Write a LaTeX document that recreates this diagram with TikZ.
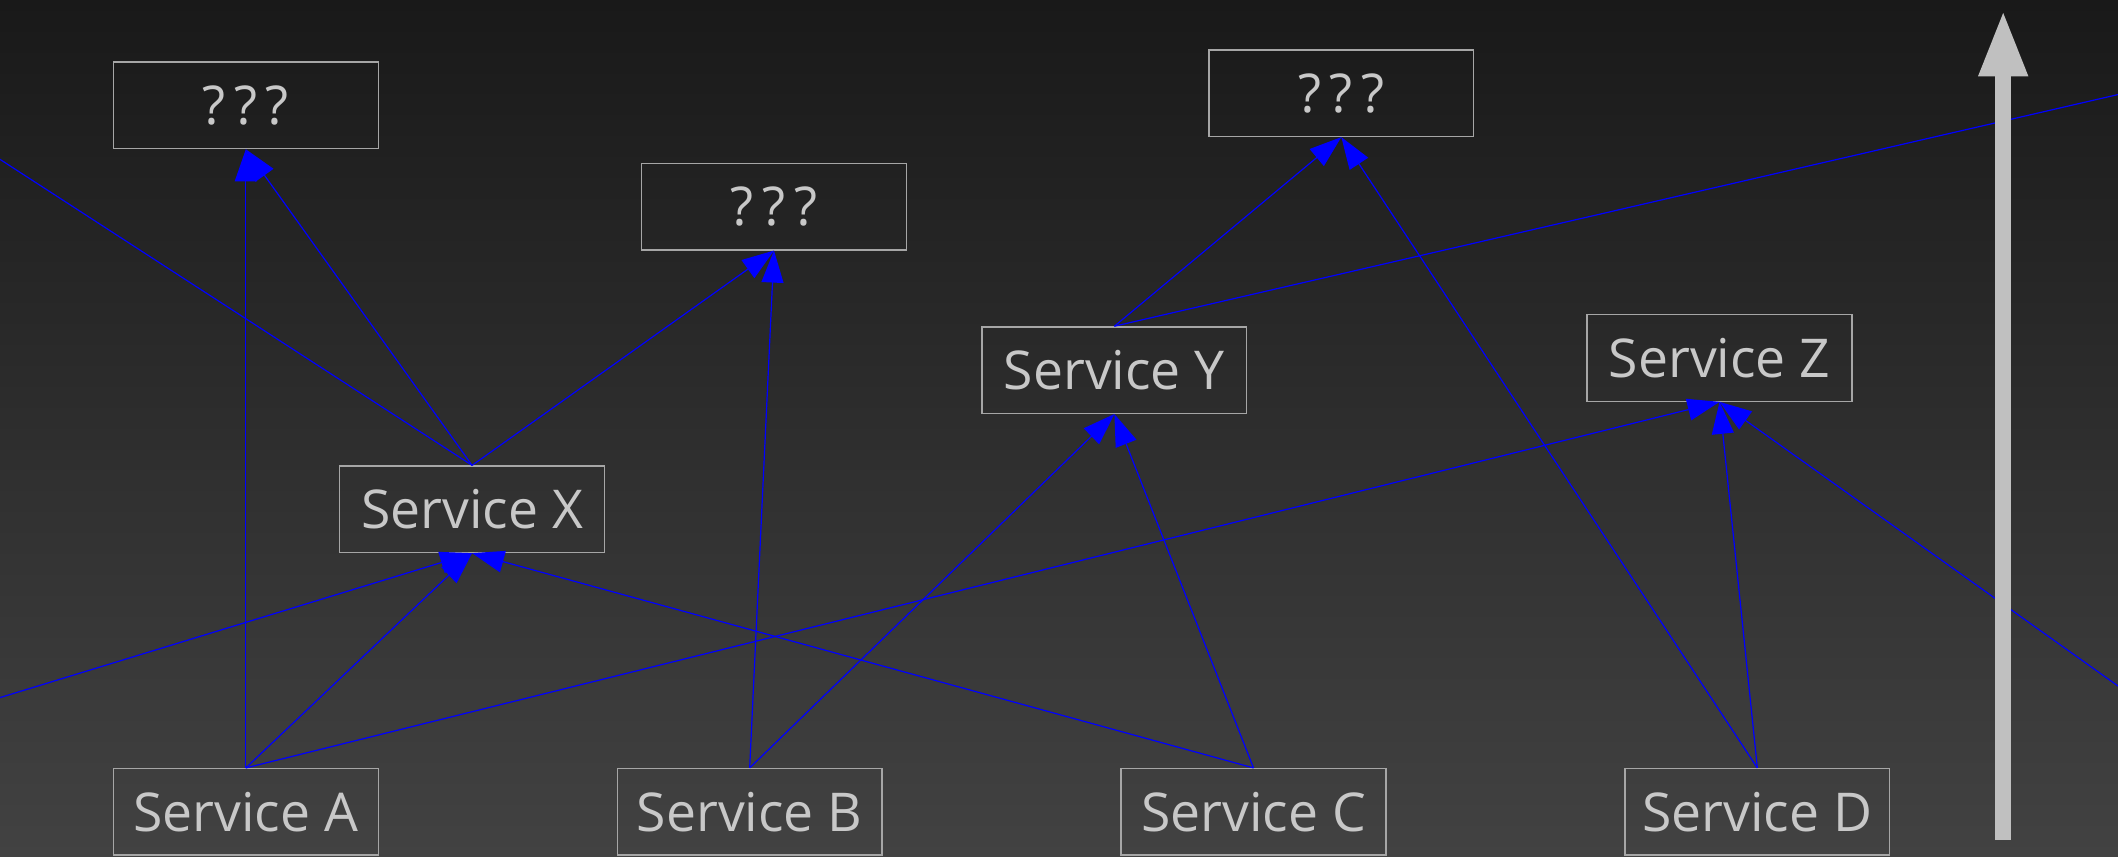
\documentclass[tikz,border=0pt]{standalone}
\usepackage{fontspec}
\setmainfont{Open Sans}
\usetikzlibrary{arrows.meta}
\definecolor{bgtop}{HTML}{191919}
\definecolor{bgbot}{HTML}{424242}
\definecolor{boxline}{HTML}{A6A6A6}
\definecolor{txt}{HTML}{C8C8C8}
\definecolor{edgeblue}{HTML}{0000FF}
\definecolor{axisgray}{HTML}{C0C0C0}
\newcommand{\qmarks}{{\addfontfeature{LetterSpace=16}???}}
\begin{document}
\begin{tikzpicture}[x=1.3508pt,y=-1.3508pt,
  svc/.style={draw=boxline,line width=1.3pt,minimum width=264.8pt,minimum height=86.5pt,
    inner sep=0pt,text=txt,font=\fontsize{53.5}{60}\selectfont},
  depline/.style={draw=edgeblue,line width=1.2pt},
  dep/.style={depline,-{Triangle[length=32pt,width=22pt]}},
  axisarrow/.style={draw=axisgray,line width=16pt,-{Triangle[length=67pt,width=45pt]}}]
\useasboundingbox (0,0) rectangle (1568,634);
\shade[top color=bgtop,bottom color=bgbot] (0,0) rectangle (1568,634);
\clip (0,0) rectangle (1568,634);

% nodes
\node[svc] (q1) at (182,78) {\qmarks};
\node[svc] (q2) at (573,153) {\qmarks};
\node[svc] (q3) at (993,69) {\qmarks};
\node[svc] (sx) at (349.5,377) {Service X};
\node[svc] (sy) at (825,274) {Service Y};
\node[svc] (sz) at (1273,265) {Service Z};
\node[svc] (sa) at (182,601) {Service A};
\node[svc] (sb) at (555,601) {Service B};
\node[svc] (sc) at (928,601) {Service C};
\node[svc] (sd) at (1301,601) {Service D};

% off-canvas ends
\coordinate (offlt) at (-10,111.5);
\coordinate (offlb) at (-10,519.5);
\coordinate (offrt) at (1578,67.7);
\coordinate (offrb) at (1578,515);

% connectors
\draw[dep] (sa.north) -- (q1.south);
\draw[dep] (sx.north) -- (q1.south);
\draw[dep] (sx.north) -- (q2.south);
\draw[depline] (sx.north) -- (offlt);
\draw[dep] (sa.north) -- (sx.south);
\draw[dep] (offlb) -- (sx.south);
\draw[dep] (sc.north) -- (sx.south);
\draw[dep] (sb.north) -- (q2.south);
\draw[dep] (sb.north) -- (sy.south);
\draw[dep] (sc.north) -- (sy.south);
\draw[dep] (sa.north) -- (sz.south);
\draw[dep] (sy.north) -- (q3.south);
\draw[depline] (sy.north) -- (offrt);
\draw[dep] (sd.north) -- (q3.south);
\draw[dep] (sd.north) -- (sz.south);
\draw[dep] (offrb) -- (sz.south);

% vertical axis arrow
\coordinate (axbot) at (1483,622);
\coordinate (axtop) at (1483,7);
\draw[axisarrow] (axbot) -- (axtop);
\end{tikzpicture}
\end{document}
